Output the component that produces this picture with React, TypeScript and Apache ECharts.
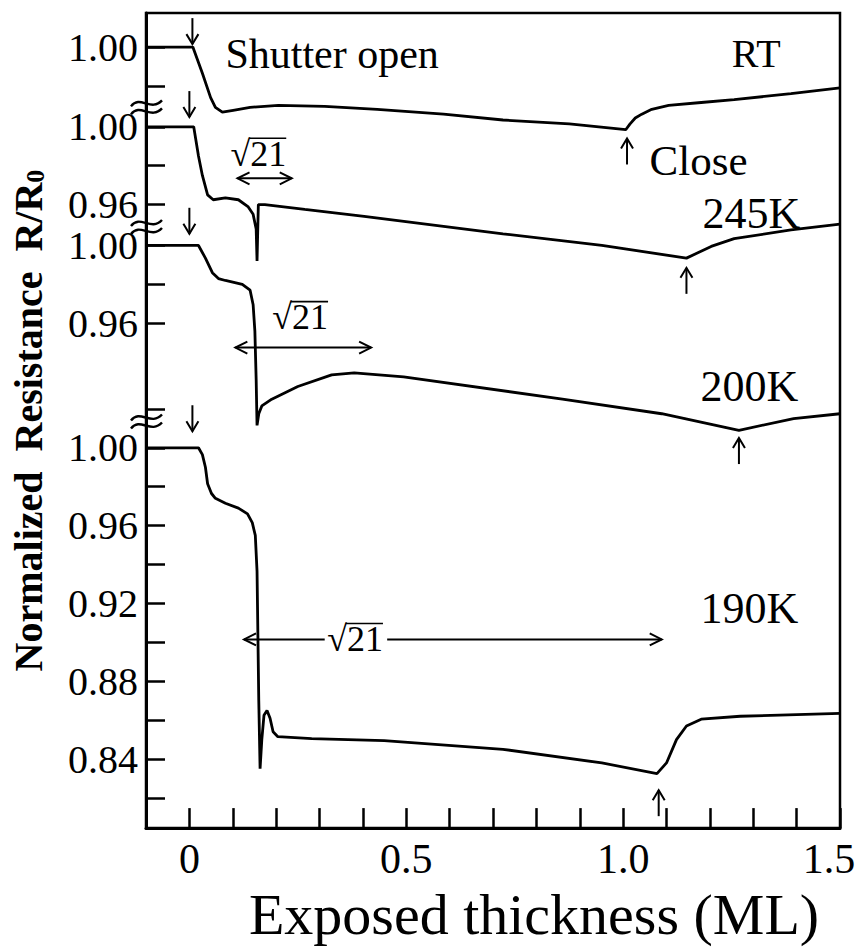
import React, { useEffect, useRef } from "react";
import * as echarts from "echarts";

// ---------- axis ticks / labels ----------
const xTickValues = [-0.1, 0, 0.1, 0.2, 0.3, 0.4, 0.5, 0.6, 0.7, 0.8, 0.9, 1.0, 1.1, 1.2, 1.3, 1.4, 1.5];
const xLabelValues = [0, 0.5, 1.0, 1.5];
const xLabelTexts = ["0", "0.5", "1.0", "1.5"];

// stacked panels: vertical display offset for each curve
const panelNames = ["RT", "245K", "200K", "190K"];
const panelOffsets = [0.206, 0.165, 0.104, 0];
const panelTickValues = [
  [1.0, 0.98],
  [1.0, 0.98, 0.96],
  [1.0, 0.98, 0.96],
  [1.02, 1.0, 0.98, 0.96, 0.94, 0.92, 0.9, 0.88, 0.86, 0.84, 0.82],
];
const panelLabelValues = [[1.0], [1.0, 0.96], [1.0, 0.96], [1.0, 0.96, 0.92, 0.88, 0.84]];

// ---------- curves (normalized resistance R/R0) ----------
const rtX = [-0.1, 0.008, 0.03, 0.049, 0.06, 0.076, 0.101, 0.14, 0.205, 0.312, 0.433, 0.586, 0.723, 0.876, 1.006, 1.016, 1.028, 1.043, 1.066, 1.105, 1.18, 1.256, 1.387, 1.5];
const rtY = [1.0, 1.0, 0.9865, 0.974, 0.969, 0.9665, 0.9675, 0.969, 0.97, 0.9695, 0.968, 0.9655, 0.9625, 0.9605, 0.9575, 0.9605, 0.9635, 0.9655, 0.968, 0.97, 0.9715, 0.973, 0.976, 0.979];

const k245X = [-0.1, 0.01, 0.021, 0.03, 0.042, 0.055, 0.083, 0.113, 0.135, 0.147, 0.154, 0.156, 0.159, 0.174, 0.266, 0.403, 0.723, 0.951, 1.146, 1.203, 1.256, 1.387, 1.5];
const k245Y = [1.0, 1.0, 0.985, 0.975, 0.965, 0.9625, 0.9635, 0.9625, 0.959, 0.955, 0.9475, 0.931, 0.96, 0.96, 0.9575, 0.954, 0.945, 0.939, 0.9325, 0.9385, 0.9425, 0.947, 0.95];

const k200X = [-0.1, 0.021, 0.037, 0.053, 0.067, 0.083, 0.122, 0.14, 0.147, 0.151, 0.154, 0.156, 0.16, 0.167, 0.19, 0.25, 0.328, 0.38, 0.494, 0.86, 1.089, 1.267, 1.393, 1.5];
const k200Y = [1.0, 1.0, 0.9935, 0.986, 0.983, 0.982, 0.98, 0.977, 0.9695, 0.956, 0.931, 0.9075, 0.9135, 0.9175, 0.921, 0.9275, 0.9335, 0.9345, 0.9325, 0.921, 0.9135, 0.905, 0.911, 0.9135];

const k190X = [-0.1, 0.021, 0.03, 0.037, 0.042, 0.051, 0.06, 0.083, 0.113, 0.134, 0.145, 0.152, 0.156, 0.158, 0.16, 0.163, 0.167, 0.172, 0.179, 0.186, 0.193, 0.204, 0.282, 0.449, 0.723, 0.951, 1.078, 1.1, 1.123, 1.146, 1.18, 1.27, 1.5];
const k190Y = [1.0, 1.0, 0.9965, 0.99, 0.9815, 0.9765, 0.974, 0.9715, 0.969, 0.966, 0.9615, 0.955, 0.9365, 0.9035, 0.87, 0.835, 0.85, 0.8625, 0.865, 0.861, 0.854, 0.8515, 0.8505, 0.8495, 0.845, 0.838, 0.8325, 0.838, 0.85, 0.857, 0.8605, 0.862, 0.8635];

const curveX = [rtX, k245X, k200X, k190X];
const curveY = [rtY, k245Y, k200Y, k190Y];

// ---------- annotations (x in ML, u = stacked display coordinate) ----------
const breakU = [1.175, 1.1135, 1.0135];
const shutterArrows = [[0.007, 1.2075], [0.0, 1.17], [0.0, 1.11], [0.007, 1.0085]];
const closeArrows = [[1.009, 1.159], [1.146, 1.0925], [1.267, 1.005], [1.082, 0.824]];
const texts = [
  { text: "Shutter open", x: 0.083, u: 1.2025, align: "left", size: 42 },
  { text: "RT", x: 1.363, u: 1.2025, align: "right", size: 40 },
  { text: "Close", x: 1.061, u: 1.1475, align: "left", size: 43 },
  { text: "245K", x: 1.4086, u: 1.1205, align: "right", size: 44 },
  { text: "200K", x: 1.404, u: 1.0315, align: "right", size: 44 },
  { text: "190K", x: 1.404, u: 0.9175, align: "right", size: 44 },
];
const sqrtLabels = [
  { x: 0.159, u: 1.151 },
  { x: 0.2554, u: 1.067 },
  { x: 0.382, u: 0.9015 },
];
// double arrows: [x1, x2, u, gapStart, gapEnd]
const spanArrows = [
  [0.111, 0.236, 1.1385, null, null],
  [0.106, 0.419, 1.0515, null, null],
  [0.126, 1.089, 0.9015, 0.312, 0.456],
];

const FONT = "'Liberation Serif', 'Times New Roman', serif";

function buildGraphic(chart: any) {
  const p = (x: number, u: number) => chart.convertToPixel({ gridIndex: 0 }, [x, u]) as number[];
  const st = { stroke: "#000", lineWidth: 2, fill: null as any };
  const els: any[] = [];
  shutterArrows.forEach(([x, u]) => {
    const [px, py] = p(x, u);
    els.push({ type: "line", silent: true, shape: { x1: px, y1: py - 26, x2: px, y2: py }, style: st });
    els.push({ type: "polyline", silent: true, shape: { points: [[px - 6, py - 10], [px, py], [px + 6, py - 10]] }, style: st });
  });
  closeArrows.forEach(([x, u]) => {
    const [px, py] = p(x, u);
    els.push({ type: "line", silent: true, shape: { x1: px, y1: py + 26, x2: px, y2: py }, style: st });
    els.push({ type: "polyline", silent: true, shape: { points: [[px - 6, py + 10], [px, py], [px + 6, py + 10]] }, style: st });
  });
  spanArrows.forEach(([x1, x2, u, g1, g2]) => {
    const [a, y] = p(x1 as number, u as number);
    const [b] = p(x2 as number, u as number);
    if (g1 != null && g2 != null) {
      const [ga] = p(g1 as number, u as number);
      const [gb] = p(g2 as number, u as number);
      els.push({ type: "line", silent: true, shape: { x1: a, y1: y, x2: ga, y2: y }, style: st });
      els.push({ type: "line", silent: true, shape: { x1: gb, y1: y, x2: b, y2: y }, style: st });
    } else {
      els.push({ type: "line", silent: true, shape: { x1: a, y1: y, x2: b, y2: y }, style: st });
    }
    els.push({ type: "polyline", silent: true, shape: { points: [[a + 12, y - 6], [a, y], [a + 12, y + 6]] }, style: st });
    els.push({ type: "polyline", silent: true, shape: { points: [[b - 12, y - 6], [b, y], [b - 12, y + 6]] }, style: st });
  });
  texts.forEach((t) => {
    const [px, py] = p(t.x, t.u);
    els.push({
      type: "text", silent: true, x: px, y: py,
      style: { text: t.text, fill: "#000", font: `${t.size}px ${FONT}`, align: t.align, verticalAlign: "middle" },
    });
  });
  sqrtLabels.forEach((s) => {
    const [px, py] = p(s.x, s.u);
    const fs = 36;
    els.push({
      type: "text", silent: true, x: px, y: py,
      style: { text: "√21", fill: "#000", font: `${fs}px ${FONT}`, align: "center", verticalAlign: "middle" },
    });
    const w = 1.55 * fs;
    els.push({
      type: "line", silent: true,
      shape: { x1: px - w / 2 + 0.52 * fs, y1: py - 0.44 * fs, x2: px + w / 2, y2: py - 0.44 * fs },
      style: { stroke: "#000", lineWidth: 1.6 },
    });
  });
  breakU.forEach((u) => {
    const [px, py] = p(-0.1, u);
    [-4, 4].forEach((dy) => {
      els.push({
        type: "bezierCurve", silent: true,
        shape: { x1: px - 15, y1: py + dy + 3, cpx1: px - 6, cpy1: py + dy - 9, cpx2: px + 5, cpy2: py + dy + 9, x2: px + 16, y2: py + dy - 3 },
        style: { stroke: "#000", lineWidth: 2.4, fill: null },
      });
    });
  });
  return els;
}

export default function App() {
  const ref = useRef<HTMLDivElement>(null);
  useEffect(() => {
    document.body.style.margin = "0";
    const chart = echarts.init(ref.current!, null, { renderer: "svg" });

    const yTicks: number[] = [];
    panelTickValues.forEach((vals, i) => vals.forEach((v) => yTicks.push(+(v + panelOffsets[i]).toFixed(4))));
    const yLabels: { u: number; t: string }[] = [];
    panelLabelValues.forEach((vals, i) => vals.forEach((v) => yLabels.push({ u: +(v + panelOffsets[i]).toFixed(4), t: v.toFixed(2) })));

    const series = panelNames.map((name, i) => ({
      name,
      type: "line",
      showSymbol: false,
      symbol: "none",
      lineStyle: { color: "#000", width: 2.8 },
      data: curveX[i].map((x, j) => [x, +(curveY[i][j] + panelOffsets[i]).toFixed(5)]),
      z: 3,
    }));

    chart.setOption({
      animation: false,
      backgroundColor: "#fff",
      grid: { left: 140, right: 22, top: 13, bottom: 97, show: true, borderColor: "#000", borderWidth: 2.5, containLabel: false },
      xAxis: {
        type: "value",
        min: -0.1,
        max: 1.5,
        interval: 0.1,
        name: "Exposed thickness (ML)",
        nameLocation: "middle",
        nameGap: 34,
        nameTextStyle: { fontFamily: FONT, fontSize: 58, color: "#000", padding: [0, 0, 0, 82] },
        axisLine: { show: true, onZero: false, lineStyle: { color: "#000", width: 3 } },
        axisTick: { show: true, inside: true, length: 20, customValues: xTickValues, lineStyle: { color: "#000", width: 2.5 } },
        axisLabel: {
          customValues: xLabelValues,
          margin: 10,
          fontFamily: FONT,
          fontSize: 42,
          color: "#000",
          formatter: (v: number) => {
            const i = xLabelValues.findIndex((x) => Math.abs(x - v) < 1e-6);
            if (i < 0) return "";
            return i === xLabelValues.length - 1 ? `{r|${xLabelTexts[i]}}` : xLabelTexts[i];
          },
          rich: { r: { fontFamily: FONT, fontSize: 42, color: "#000", padding: [0, 22, 0, 0] } },
        },
        splitLine: { show: false },
      },
      yAxis: {
        type: "value",
        min: 0.8045,
        max: 1.2235,
        name: "Normalized  Resistance  R/R{s|0}",
        nameLocation: "middle",
        nameGap: 98,
        nameRotate: 90,
        nameTextStyle: {
          fontFamily: FONT, fontSize: 40, fontWeight: "bold", color: "#000",
          rich: { s: { fontFamily: FONT, fontSize: 26, fontWeight: "bold", color: "#000", padding: [14, 0, 0, 0] } },
        },
        axisLine: { show: true, onZero: false, lineStyle: { color: "#000", width: 3 } },
        axisTick: { show: true, inside: true, length: 19, customValues: yTicks, lineStyle: { color: "#000", width: 2.5 } },
        axisLabel: {
          customValues: yLabels.map((l) => l.u),
          margin: 8,
          fontFamily: FONT,
          fontSize: 40,
          color: "#000",
          formatter: (v: number) => {
            const f = yLabels.find((l) => Math.abs(l.u - v) < 1e-4);
            return f ? f.t : "";
          },
        },
        splitLine: { show: false },
      },
      series,
    });
    chart.setOption({ graphic: buildGraphic(chart) });
    return () => chart.dispose();
  }, []);
  return <div ref={ref} style={{ width: 862, height: 948, background: "#fff" }} />;
}
